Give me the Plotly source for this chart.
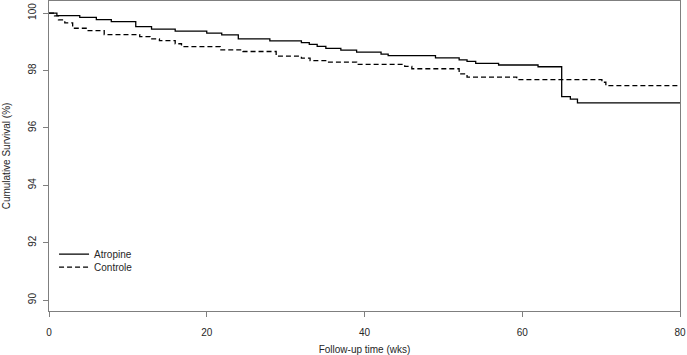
import plotly.graph_objects as go

# Kaplan-Meier step data (weeks, cumulative survival %)
atropine_weeks = [0, 1.0, 3.9, 6.0, 7.9, 11.0, 13.0, 16.0, 20.0, 21.9, 24.0, 28.0,
                  32.0, 33.0, 34.0, 35.1, 37.0, 39.0, 42.1, 43.0, 49.0, 52.0, 53.0,
                  54.1, 57.0, 62.0, 65.0, 66.1, 67.0, 80.0]
atropine_surv = [100.0, 99.91, 99.85, 99.77, 99.70, 99.53, 99.44, 99.37, 99.30, 99.24,
                 99.10, 99.03, 98.97, 98.91, 98.84, 98.77, 98.71, 98.64, 98.57, 98.52,
                 98.44, 98.37, 98.32, 98.25, 98.19, 98.13, 97.09, 97.00, 96.87, 96.87]

controle_weeks = [0, 0.7, 1.2, 2.0, 3.0, 4.8, 7.0, 11.5, 12.8, 14.0, 16.0, 16.8, 21.7,
                  24.6, 28.8, 32.0, 33.1, 35.2, 39.0, 45.1, 46.0, 52.0, 53.0, 59.3,
                  70.1, 70.6, 80.0]
controle_surv = [100.0, 99.90, 99.76, 99.66, 99.47, 99.39, 99.25, 99.18, 99.10, 99.04,
                 98.93, 98.83, 98.72, 98.66, 98.50, 98.43, 98.34, 98.29, 98.21, 98.14,
                 98.06, 97.88, 97.77, 97.68, 97.59, 97.47, 97.47]

x_ticks = [0, 20, 40, 60, 80]
y_ticks = [90, 92, 94, 96, 98, 100]

axis_grey = "#7f7f7f"
text_col = "#262626"

fig = go.Figure()
fig.add_trace(go.Scatter(
    x=atropine_weeks, y=atropine_surv, mode="lines", name="Atropine",
    line=dict(color="black", width=1.3, shape="hv"), legend="legend",
))
fig.add_trace(go.Scatter(
    x=controle_weeks, y=controle_surv, mode="lines", name="Controle",
    line=dict(color="black", width=1.3, shape="hv", dash="5px,3px"), legend="legend2",
))

legend_style = dict(
    xanchor="left", yanchor="top", bgcolor="rgba(0,0,0,0)",
    font=dict(size=10, color=text_col), itemwidth=30,
)

fig.update_layout(
    width=687, height=355,
    margin=dict(l=49, r=7, t=1, b=44),
    paper_bgcolor="white", plot_bgcolor="white",
    font=dict(family="Liberation Sans, Arial, sans-serif", size=10, color=text_col),
    showlegend=True,
    legend=dict(x=0.008, y=0.230, **legend_style),
    legend2=dict(x=0.008, y=0.188, **legend_style),
)
fig.update_xaxes(
    range=[0, 80], tickvals=x_ticks, ticks="outside", ticklen=5,
    tickcolor=axis_grey, showline=True, linecolor=axis_grey, linewidth=1,
    mirror=True, showgrid=False, zeroline=False, ticklabelstandoff=7,
    automargin=False, tickfont=dict(size=10),
    title=dict(text="Follow-up time (wks)", standoff=24, font=dict(size=10)),
)
fig.update_yaxes(
    range=[89.62, 100.42], tickvals=y_ticks, ticks="outside", ticklen=5,
    tickcolor=axis_grey, showline=True, linecolor=axis_grey, linewidth=1,
    mirror=True, showgrid=False, zeroline=False, tickangle=-90,
    ticklabelstandoff=3, automargin=False, tickfont=dict(size=10),
    title=dict(text="Cumulative Survival (%)", standoff=14, font=dict(size=10)),
)

fig.write_html(
    "out.html",
    config={"displayModeBar": False},
    post_script="document.body.style.margin='0';",
)
